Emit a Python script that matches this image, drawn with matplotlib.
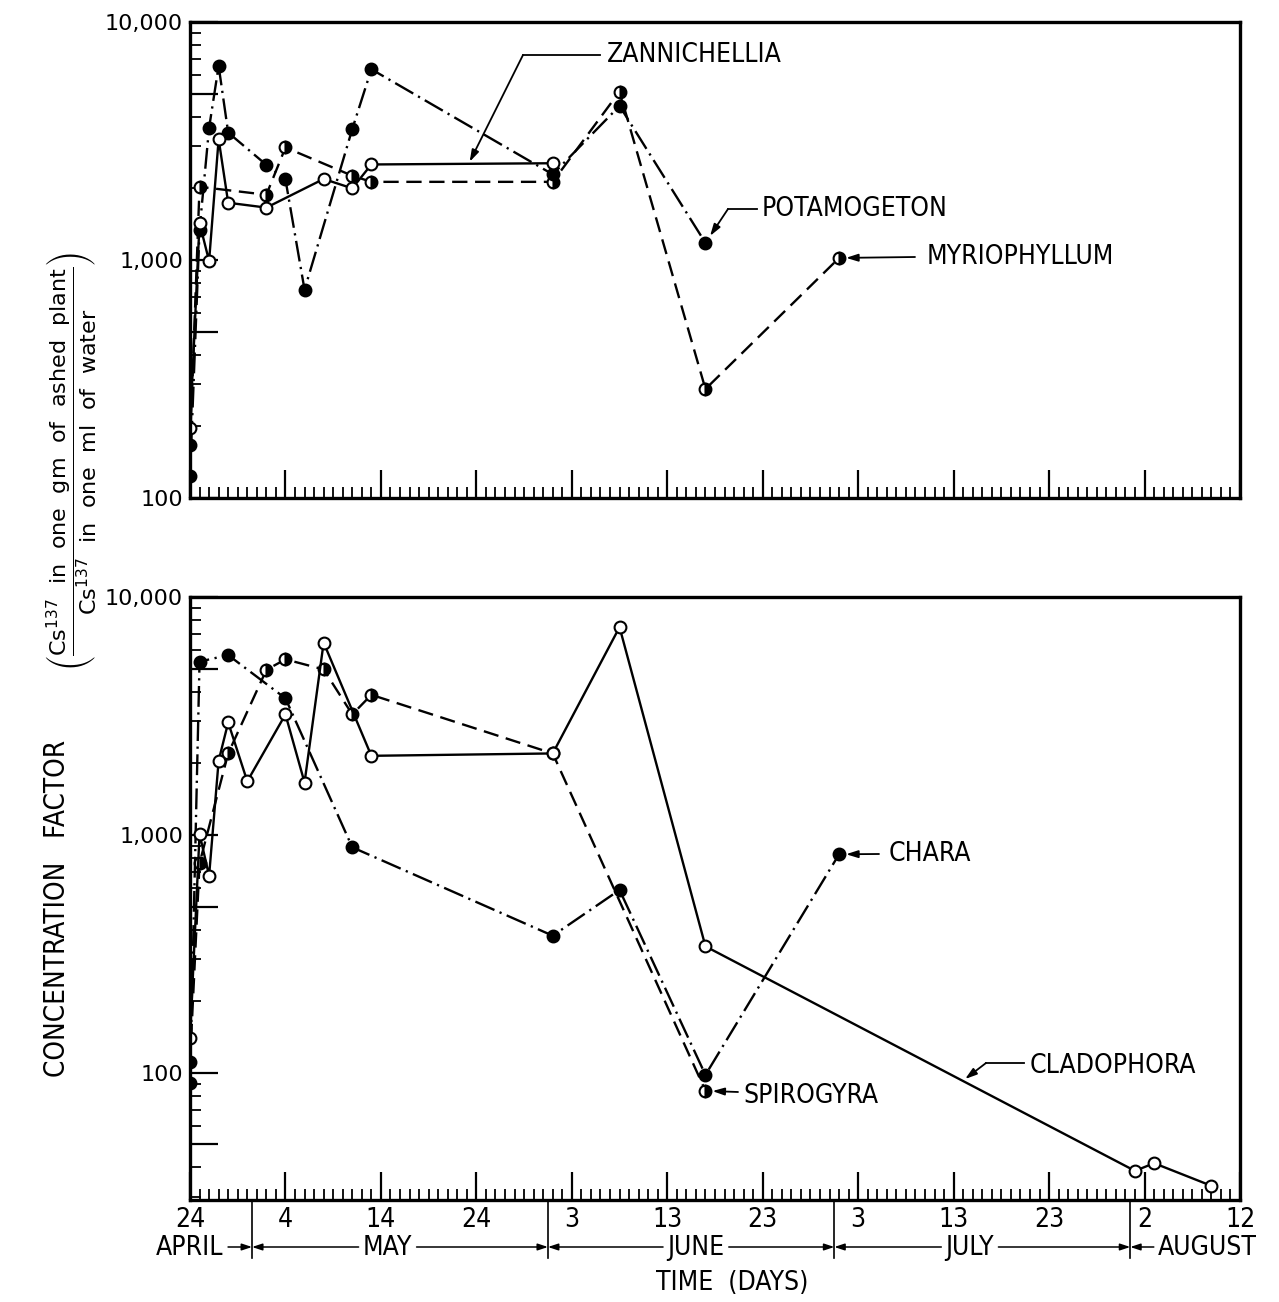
import numpy as np
import matplotlib
matplotlib.use("Agg")
import matplotlib.pyplot as plt
from matplotlib.ticker import FixedLocator, FixedFormatter, NullFormatter
from matplotlib.transforms import blended_transform_factory
from matplotlib.lines import Line2D

# ---------------- data (days after April 24, concentration factor) ----------------
zann_days = [0, 1, 2, 3, 4, 8, 14, 17, 19, 38]
zann_vals = [196, 1430, 990, 3220, 1740, 1660, 2190, 2000, 2520, 2550]

pota_days = [0, 1, 2, 3, 4, 8, 10, 12, 17, 19, 38, 45, 54]
pota_vals = [124, 1340, 3590, 6540, 3430, 2510, 2180, 750, 3550, 6330, 2290, 4440, 1180]

myrio_days = [0, 1, 8, 10, 17, 19, 38, 45, 54, 68]
myrio_vals = [167, 2030, 1880, 2970, 2260, 2130, 2130, 5100, 287, 1020]

clad_days = [0, 1, 2, 3, 4, 6, 10, 12, 14, 19, 38, 45, 54, 99, 101, 107]
clad_vals = [140, 1009, 673, 2050, 2970, 1680, 3210, 1660, 6430, 2150, 2200, 7470, 340, 38.7, 41.7, 33.5]

spiro_days = [0, 1, 4, 8, 10, 14, 17, 19, 38, 54]
spiro_vals = [111, 760, 2200, 4940, 5470, 4960, 3210, 3880, 2200, 84]

chara_days = [0, 1, 4, 10, 17, 38, 45, 54, 68]
chara_vals = [91, 5350, 5700, 3750, 887, 377, 587, 98, 829]

x_tick_days = [0, 10, 20, 30, 40, 50, 60, 70, 80, 90, 100, 110]
x_tick_labels = ["24", "4", "14", "24", "3", "13", "23", "3", "13", "23", "2", "12"]
month_names = ["APRIL", "MAY", "JUNE", "JULY", "AUGUST"]
month_label_days = [0, 20.7, 53, 81.7, 106.6]
month_bounds = [6.5, 37.5, 67.5, 98.5]

# ---------------- figure layout ----------------
W, H = 1279, 1302
fig = plt.figure(figsize=(W / 100, H / 100), dpi=100)
plt.rcParams["mathtext.fontset"] = "dejavusans"
plt.rcParams["lines.scale_dashes"] = False

NARROW = dict(family=["DejaVu Sans"], stretch="condensed")


def fx(x):
    return x / W


def fy(y):
    return 1 - y / H


ax1 = fig.add_axes([fx(190), fy(498), fx(1240) - fx(190), fy(22) - fy(498)])
ax2 = fig.add_axes([fx(190), fy(1200), fx(1240) - fx(190), fy(597) - fy(1200)])


def style_axes(ax, ymin, show_xlabels):
    ax.set_yscale("log")
    ax.set_xlim(0, 110)
    ax.set_ylim(ymin, 10000)
    for s in ax.spines.values():
        s.set_linewidth(2.4)
    # y ticks: decades and the 5's are long, the rest short
    ymaj = [v for v in [50, 100, 500, 1000, 5000, 10000] if v >= ymin]
    ax.yaxis.set_major_locator(FixedLocator(ymaj))
    lab = {100: "100", 1000: "1,000", 10000: "10,000"}
    ax.yaxis.set_major_formatter(FixedFormatter([lab.get(v, "") for v in ymaj]))
    ymin_ticks = [m * 10 ** e for e in range(1, 4) for m in (2, 3, 4, 6, 7, 8, 9)]
    ax.yaxis.set_minor_locator(FixedLocator([v for v in ymin_ticks if ymin <= v <= 10000]))
    ax.yaxis.set_minor_formatter(NullFormatter())
    ax.xaxis.set_major_locator(FixedLocator(x_tick_days))
    ax.xaxis.set_minor_locator(FixedLocator(list(range(0, 111))))
    if show_xlabels:
        ax.xaxis.set_major_formatter(FixedFormatter(x_tick_labels))
    else:
        ax.xaxis.set_major_formatter(NullFormatter())
    ax.tick_params(which="major", direction="in", length=20, width=1.6)
    ax.tick_params(which="minor", direction="in", length=8, width=1.3)
    ax.tick_params(axis="y", which="major", labelsize=16, pad=5)
    ax.tick_params(axis="x", which="major", labelsize=19, pad=5)
    ax.tick_params(top=False, right=False)
    for t in ax.get_xticklabels():
        t.set_family(NARROW["family"])
        t.set_stretch(NARROW["stretch"])


style_axes(ax1, 100, False)
style_axes(ax2, 29.2, True)

DASHED = (0, (11, 5.5))
DASHDOT = (0, (15, 4, 1.6, 4))
MS = 8.5


def plot_series(ax, d, v, ls, kind, lw=1.7):
    kw = dict(marker="o", markersize=MS, markeredgecolor="black", markeredgewidth=1.5,
              color="black", linestyle=ls, linewidth=lw)
    if kind == "open":
        kw.update(markerfacecolor="white")
    elif kind == "filled":
        kw.update(markerfacecolor="black")
    else:
        kw.update(markerfacecolor="black", fillstyle="right", markerfacecoloralt="white")
    ax.plot(d, v, **kw)


plot_series(ax1, myrio_days, myrio_vals, DASHED, "half")
plot_series(ax1, pota_days, pota_vals, DASHDOT, "filled")
plot_series(ax1, zann_days, zann_vals, "-", "open")

plot_series(ax2, spiro_days, spiro_vals, DASHED, "half")
plot_series(ax2, chara_days, chara_vals, DASHDOT, "filled")
plot_series(ax2, clad_days, clad_vals, "-", "open")


# ---------------- series labels with leaders ----------------
def on_line(days, vals, d):
    return 10 ** np.interp(d, days, np.log10(vals))


AP = dict(arrowstyle="-|>,head_length=0.7,head_width=0.22", color="black", lw=1.3,
          shrinkA=0)


def label(ax, text, tx, ty, start, knee, tip, shrink):
    fig.text(fx(tx), fy(ty), text, fontsize=19, ha="left", va="center", **NARROW)
    if knee is not None:
        fig.add_artist(Line2D([fx(start[0]), fx(knee[0])], [fy(start[1]), fy(knee[1])],
                              color="black", lw=1.3))
        a0 = knee
    else:
        a0 = start
    ax.annotate("", xy=tip, xycoords="data", xytext=(fx(a0[0]), fy(a0[1])),
                textcoords="figure fraction", arrowprops=dict(AP, shrinkB=shrink))


label(ax1, "ZANNICHELLIA", 607, 55, (600, 55), (523, 55),
      (29.3, on_line(zann_days, zann_vals, 29.3) * 1.02), 0)
label(ax1, "POTAMOGETON", 762, 209, (757, 209), (728, 209),
      (pota_days[-1], pota_vals[-1]), 6)
label(ax1, "MYRIOPHYLLUM", 927, 257, (915, 257), None,
      (myrio_days[-1], myrio_vals[-1]), 5)

label(ax2, "CHARA", 889, 854, (879, 854), None,
      (chara_days[-1], chara_vals[-1]), 5)
label(ax2, "SPIROGYRA", 743, 1096, (738, 1092), None,
      (spiro_days[-1], spiro_vals[-1]), 5)
label(ax2, "CLADOPHORA", 1030, 1066, (1024, 1063), (986, 1063),
      (81.2, on_line(clad_days, clad_vals, 81.2) * 1.03), 0)

# ---------------- axis titles ----------------
fig.text(fx(57), fy(908), "CONCENTRATION   FACTOR", rotation=90, ha="center", va="center",
         fontsize=20, **NARROW)
fig.text(fx(72), fy(462),
         r"$\left(\dfrac{\mathrm{Cs^{137}\ \ in\ \ one\ \ gm\ \ of\ \ ashed\ \ plant}}"
         r"{\mathrm{Cs^{137}\ \ in\ \ one\ \ ml\ \ of\ \ water}}\right)$",
         rotation=90, ha="center", va="center", fontsize=16)
fig.text(fx(732), fy(1283), "TIME  (DAYS)", ha="center", va="center", fontsize=19,
         **NARROW)

# ---------------- month row under the time axis ----------------
bt = blended_transform_factory(ax2.transData, fig.transFigure)
for b in month_bounds:
    fig.add_artist(Line2D([b, b], [fy(1200), fy(1258)], transform=bt, color="black", lw=1.2))

MY = 1248
month_texts = []
for name, d in zip(month_names, month_label_days):
    t = fig.text(d, fy(MY), name, transform=bt, ha="center", va="center", fontsize=19,
                 **NARROW)
    month_texts.append(t)

fig.canvas.draw()
inv = ax2.transData.inverted()
MAP = dict(arrowstyle="-|>,head_length=0.6,head_width=0.2", color="black", lw=1.1,
           shrinkA=0, shrinkB=0)
gap = 0.45
for i, t in enumerate(month_texts):
    bb = t.get_window_extent()
    left = inv.transform((bb.x0, bb.y0))[0]
    right = inv.transform((bb.x1, bb.y0))[0]
    yarr = fy(MY - 1)
    if i > 0:
        ax2.annotate("", xy=(month_bounds[i - 1], yarr), xycoords=bt,
                     xytext=(left - gap, yarr), textcoords=bt, arrowprops=MAP,
                     annotation_clip=False)
    if i < len(month_bounds):
        ax2.annotate("", xy=(month_bounds[i], yarr), xycoords=bt,
                     xytext=(right + gap, yarr), textcoords=bt, arrowprops=MAP,
                     annotation_clip=False)

fig.savefig("out.png", dpi=100)
